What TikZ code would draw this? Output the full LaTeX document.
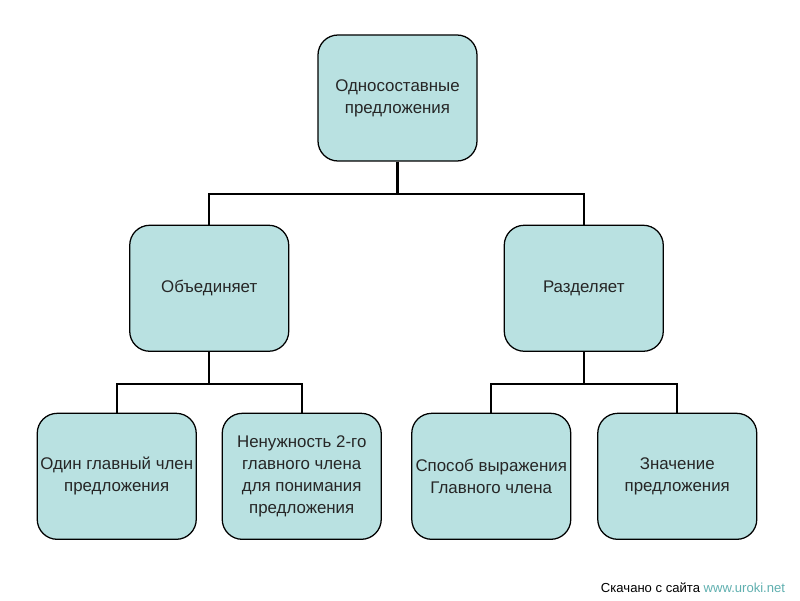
\documentclass[tikz,border=0pt]{standalone}
\usepackage{fontspec}
\setmainfont{Liberation Sans}
\usepackage{xcolor}
\usetikzlibrary{positioning}

\definecolor{boxfill}{RGB}{185,225,225}
\definecolor{site}{RGB}{95,175,175}

\begin{document}
\begin{tikzpicture}[
  box/.style={draw, line width=0.9pt, fill=boxfill, rounded corners=0.5cm,
    minimum width=3.975cm, minimum height=3.15cm, align=center,
    font=\fontsize{12}{15.5}\selectfont, text=black!85, inner sep=1pt},
  link/.style={line width=1.5pt},
]
  \useasboundingbox (0,0) rectangle (20,15);

  \node (top) [box] at (9.9375,12.55) {Односоставные\\предложения};
  \node (obj) [box, below left=1.575cm and 0.7cm of top]  {Объединяет};
  \node (sep) [box, below right=1.575cm and 0.65cm of top] {Разделяет};

  \node (one)  [box, below=1.52cm of obj, xshift=-2.3125cm] {Один главный член\\предложения};
  \node (need) [box, below=1.52cm of obj, xshift=2.3125cm]  {Ненужность 2-го\\главного члена\\для понимания\\предложения};
  \node (way)  [box, below=1.52cm of sep, xshift=-2.3125cm] {Способ выражения\\Главного члена};
  \node (mean) [box, below=1.52cm of sep, xshift=2.3375cm]  {Значение\\предложения};

  \draw[link] (top.south) -- ++(0,-0.8) -| (obj.north);
  \draw[link] (top.south) -- ++(0,-0.8) -| (sep.north);
  \draw[link] (obj.south) -- ++(0,-0.8) -| (one.north);
  \draw[link] (obj.south) -- ++(0,-0.8) -| (need.north);
  \draw[link] (sep.south) -- ++(0,-0.8) -| (way.north);
  \draw[link] (sep.south) -- ++(0,-0.8) -| (mean.north);

  \node (src) [anchor=east, font=\fontsize{9.3}{11}\selectfont] at (19.75,0.3)
    {Скачано с сайта \textcolor{site}{www.uroki.net}};
\end{tikzpicture}
\end{document}
